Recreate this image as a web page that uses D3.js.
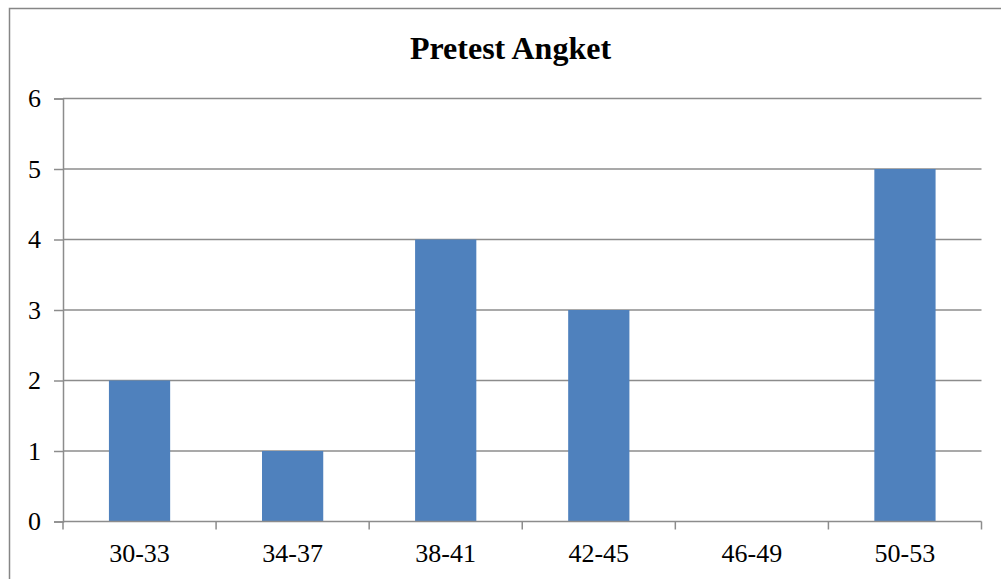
<!DOCTYPE html>
<html>
<head>
<meta charset="utf-8">
<script src="https://cdn.jsdelivr.net/npm/d3@7"></script>
<style>
  html, body { margin: 0; padding: 0; background: #fff; }
  svg { display: block; }
</style>
</head>
<body>
<svg id="chart" width="1001" height="579"></svg>
<script>
// Score ranges and how many respondents fell into each
const categories = ["30-33", "34-37", "38-41", "42-45", "46-49", "50-53"];
const counts = [2, 1, 4, 3, 0, 5];
const yTicks = [0, 1, 2, 3, 4, 5, 6];
const title = "Pretest Angket";

const svg = d3.select("#chart");
const W = 1001, H = 579;
const fontFamily = "'Liberation Serif', 'Times New Roman', serif";
const axisColor = "#8c8c8c";

// Outer chart frame (runs past the right and bottom edges)
svg.append("rect")
  .attr("x", 9.5).attr("y", 8.5)
  .attr("width", W + 20).attr("height", H + 20)
  .attr("fill", "#fff").attr("stroke", "#868686").attr("stroke-width", 1.5);

const plot = { left: 63, right: 981.5, top: 98.5, bottom: 521.5 };

const x = d3.scaleBand()
  .domain(categories)
  .range([plot.left, plot.right])
  .paddingInner(0.6)
  .paddingOuter(0.3);

const y = d3.scaleLinear()
  .domain([0, 6])
  .range([plot.bottom, plot.top]);

// Horizontal gridlines
svg.append("g")
  .selectAll("line")
  .data(yTicks.filter(d => d > 0))
  .join("line")
  .attr("x1", plot.left).attr("x2", plot.right)
  .attr("y1", d => y(d)).attr("y2", d => y(d))
  .attr("stroke", axisColor).attr("stroke-width", 1.5);

// Bars
svg.append("g")
  .selectAll("rect")
  .data(categories.map((c, i) => ({ c, v: counts[i] })))
  .join("rect")
  .attr("x", d => x(d.c))
  .attr("y", d => y(d.v))
  .attr("width", x.bandwidth())
  .attr("height", d => y(0) - y(d.v))
  .attr("fill", "#4f81bd");

// Y axis
const yAxis = d3.axisLeft(y)
  .tickValues(yTicks)
  .tickFormat(d3.format("d"))
  .tickSize(9)
  .tickPadding(13);
const gy = svg.append("g")
  .attr("transform", `translate(${plot.left},0)`)
  .call(yAxis);
gy.select(".domain").attr("stroke", axisColor).attr("stroke-width", 1.5);
gy.selectAll(".tick line").attr("stroke", axisColor).attr("stroke-width", 1.5);
gy.selectAll(".tick text")
  .attr("font-family", fontFamily).attr("font-size", 26).attr("fill", "#000");

// X axis: baseline, boundary ticks between categories, labels
const xAxisG = svg.append("g");
xAxisG.append("line")
  .attr("x1", plot.left).attr("x2", plot.right)
  .attr("y1", y(0)).attr("y2", y(0))
  .attr("stroke", axisColor).attr("stroke-width", 1.5);
const edges = d3.range(categories.length + 1)
  .map(i => plot.left + i * (plot.right - plot.left) / categories.length);
xAxisG.selectAll("line.edge")
  .data(edges)
  .join("line")
  .attr("class", "edge")
  .attr("x1", d => d).attr("x2", d => d)
  .attr("y1", y(0)).attr("y2", y(0) + 8)
  .attr("stroke", axisColor).attr("stroke-width", 1.5);
xAxisG.selectAll("text")
  .data(categories)
  .join("text")
  .attr("x", d => x(d) + x.bandwidth() / 2)
  .attr("y", y(0) + 40.5)
  .attr("text-anchor", "middle")
  .attr("font-family", fontFamily).attr("font-size", 26).attr("fill", "#000")
  .text(d => d);

// Title
svg.append("text")
  .attr("x", 510.5).attr("y", 59)
  .attr("text-anchor", "middle")
  .attr("font-family", fontFamily).attr("font-size", 32).attr("font-weight", "bold")
  .attr("fill", "#000")
  .text(title);
</script>
</body>
</html>
